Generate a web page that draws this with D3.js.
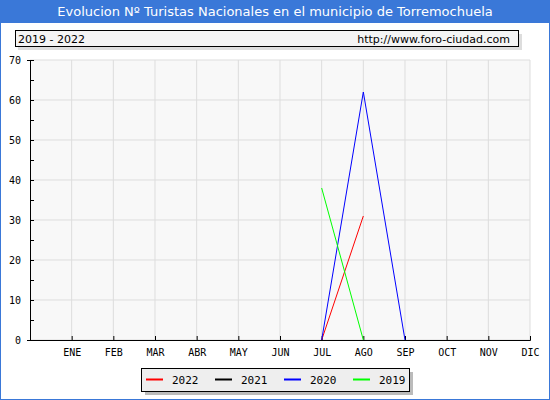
<!DOCTYPE html><html><head><meta charset="utf-8"><script src="https://cdn.jsdelivr.net/npm/d3@7"></script>
<style>body{margin:0}</style></head><body><svg id="c" width="550" height="400"></svg><script>
const months=["ENE","FEB","MAR","ABR","MAY","JUN","JUL","AGO","SEP","OCT","NOV","DIC"];
const series=["2022","2021","2020","2019"];
const colors=["#ff0000","#000000","#0000ff","#00ff00"];
const v2022=[null,null,null,null,null,null,0,31,null,null,null,null];
const v2021=[null,null,null,null,null,null,null,null,null,null,null,null];
const v2020=[null,null,null,null,null,null,0,62,0,null,null,null];
const v2019=[null,null,null,null,null,null,38,0,null,null,null,null];
const yTicks=[0,10,20,30,40,50,60,70];
const data=[v2022,v2021,v2020,v2019];
const svg=d3.select("#c");
const F="DejaVu Sans Mono, monospace";
svg.append("rect").attr("x",0.5).attr("y",0.5).attr("width",549).attr("height",399).attr("fill","#fff").attr("stroke","#3a78d8");
svg.append("rect").attr("x",0).attr("y",0).attr("width",550).attr("height",23).attr("fill","#3a78d8");
svg.append("text").attr("x",275).attr("y",16).attr("text-anchor","middle").attr("fill","#fff").attr("font-family","DejaVu Sans, sans-serif").attr("font-size",13).text("Evolucion Nº Turistas Nacionales en el municipio de Torremochuela");
svg.append("rect").attr("x",18).attr("y",34).attr("width",504).attr("height",16).attr("fill","#ddd");
svg.append("rect").attr("x",15.5).attr("y",30.5).attr("width",503).attr("height",16).attr("fill","#f4f4f4").attr("stroke","#000");
svg.append("text").attr("x",18).attr("y",42.5).attr("font-family","DejaVu Sans, sans-serif").attr("font-size",11).text("2019 - 2022");
svg.append("text").attr("x",510).attr("y",42.5).attr("text-anchor","end").attr("font-family","DejaVu Sans, sans-serif").attr("font-size",11).text("http://www.foro-ciudad.com");
const x=d3.scaleLinear().domain([0,12]).range([30,530]);
const y=d3.scaleLinear().domain([0,70]).range([340,60]);
svg.append("rect").attr("x",30).attr("y",60).attr("width",500).attr("height",280).attr("fill","#f8f8f8");
const g=svg.append("g");
months.forEach((m,i)=>{g.append("line").attr("x1",x(i+1)).attr("x2",x(i+1)).attr("y1",60).attr("y2",340).attr("stroke","#ddd");});
yTicks.forEach(t=>{g.append("line").attr("x1",30).attr("x2",530).attr("y1",y(t)).attr("y2",y(t)).attr("stroke","#ddd");});
const xa=svg.append("g").attr("transform","translate(0,340)").call(d3.axisBottom(x).tickValues(d3.range(1,13)).tickFormat(d=>months[d-1]).tickSize(-4).tickPadding(9));
const ya=svg.append("g").attr("transform","translate(30,0)").call(d3.axisLeft(y).tickValues(yTicks).tickSize(3).tickPadding(6));
svg.append("g").attr("transform","translate(30,0)").call(d3.axisLeft(y).tickValues(d3.range(5,70,10)).tickSize(-4).tickFormat(""));
svg.selectAll(".domain").attr("stroke","#000");
[xa,ya].forEach(a=>a.selectAll("text").attr("font-family",F).attr("font-size",10).attr("fill","#000"));
ya.selectAll(".tick line").attr("x2",4);
const line=d3.line().defined(d=>d!=null).x((d,i)=>x(i+1)).y(d=>y(d));
data.forEach((s,k)=>{svg.append("path").datum(s).attr("d",line).attr("fill","none").attr("stroke",colors[k]).attr("stroke-width",1);});
svg.append("rect").attr("x",145).attr("y",372).attr("width",268).attr("height",23).attr("fill","#bbb");
svg.append("rect").attr("x",141.5).attr("y",368.5).attr("width",268).attr("height",23).attr("fill","#eee").attr("stroke","#000");
series.forEach((s,k)=>{const lx=146+k*69;
svg.append("line").attr("x1",lx).attr("x2",lx+17).attr("y1",379.5).attr("y2",379.5).attr("stroke",colors[k]).attr("stroke-width",2);
svg.append("text").attr("x",lx+26).attr("y",383.5).attr("font-family",F).attr("font-size",11).text(s);});
</script></body></html>
